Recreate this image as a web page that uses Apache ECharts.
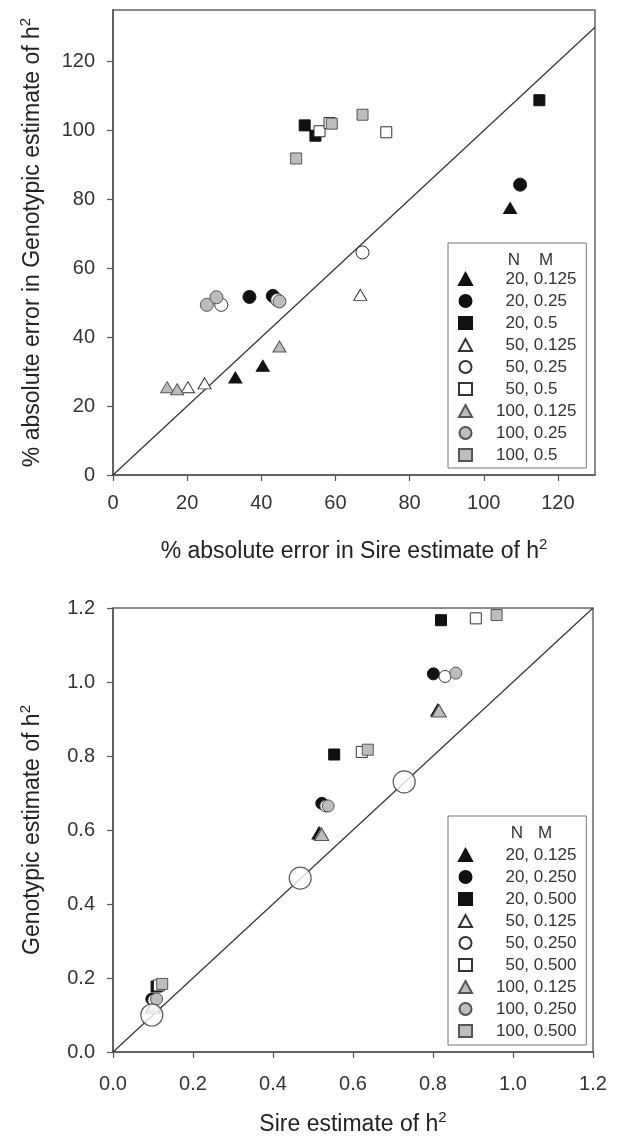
<!DOCTYPE html>
<html>
<head>
<meta charset="utf-8">
<script src="https://cdn.jsdelivr.net/npm/echarts@6/dist/echarts.min.js"></script>
<style>
  html, body { margin: 0; padding: 0; background: #fff; }
  #chart { width: 617px; height: 1140px; }
</style>
</head>
<body>
<div id="chart"></div>
<script>
// ---- data: top panel (% absolute error, sire vs genotypic) ----
const topNames = ['20, 0.125', '20, 0.25', '20, 0.5', '50, 0.125', '50, 0.25', '50, 0.5', '100, 0.125', '100, 0.25', '100, 0.5']
const topN20M125 = [[33.0, 28.3], [40.4, 31.7], [107.1, 77.5]]
const topN20M25 = [[36.8, 51.7], [43.1, 52.0], [109.8, 84.3]]
const topN20M5 = [[51.7, 101.5], [54.6, 98.5], [115.0, 108.8]]
const topN50M125 = [[20.2, 25.5], [24.7, 26.6], [66.7, 52.3]]
const topN50M25 = [[29.2, 49.4], [44.3, 50.8], [67.3, 64.6]]
const topN50M5 = [[55.7, 99.8], [58.4, 102.2], [73.7, 99.5]]
const topN100M125 = [[14.6, 25.5], [17.3, 24.9], [44.9, 37.3]]
const topN100M25 = [[25.3, 49.4], [27.9, 51.6], [44.9, 50.4]]
const topN100M5 = [[49.4, 91.9], [59.0, 102.0], [67.3, 104.6]]
const topTicks = [0, 20, 40, 60, 80, 100, 120]

// ---- data: bottom panel (h2 estimates, sire vs genotypic) ----
const botNames = ['20, 0.125', '20, 0.250', '20, 0.500', '50, 0.125', '50, 0.250', '50, 0.500', '100, 0.125', '100, 0.250', '100, 0.500']
const botN20M125 = [[0.100, 0.125], [0.515, 0.592], [0.812, 0.924]]
const botN20M25 = [[0.097, 0.143], [0.522, 0.672], [0.801, 1.022]]
const botN20M5 = [[0.109, 0.177], [0.553, 0.804], [0.820, 1.167]]
const botN50M125 = [[0.100, 0.120], [0.520, 0.590], [0.815, 0.922]]
const botN50M25 = [[0.102, 0.140], [0.532, 0.665], [0.830, 1.015]]
const botN50M5 = [[0.115, 0.180], [0.622, 0.811], [0.907, 1.172]]
const botN100M125 = [[0.102, 0.125], [0.522, 0.588], [0.815, 0.922]]
const botN100M25 = [[0.109, 0.143], [0.538, 0.665], [0.857, 1.024]]
const botN100M5 = [[0.123, 0.184], [0.637, 0.817], [0.959, 1.181]]
const botTrue = [[0.097, 0.100], [0.468, 0.470], [0.728, 0.730]]
const botTicks = [0, 0.2, 0.4, 0.6, 0.8, 1.0, 1.2]

const topData = [topN20M125, topN20M25, topN20M5, topN50M125, topN50M25, topN50M5, topN100M125, topN100M25, topN100M5]
const botData = [botN20M125, botN20M25, botN20M5, botN50M125, botN50M25, botN50M5, botN100M125, botN100M25, botN100M5]

const FONT = 'Liberation Sans, Arial, sans-serif'
const shapes = ['triangle', 'circle', 'rect']
const fills = [
  { color: '#111', borderColor: '#111' },
  { color: '#fff', borderColor: '#333' },
  { color: '#bdbdbd', borderColor: '#555' }
]

function makeSeries(prefix, names, data, gi, sizes) {
  return names.map((nm, k) => ({
    type: 'scatter',
    name: prefix + nm,
    xAxisIndex: gi,
    yAxisIndex: gi,
    symbol: shapes[k % 3],
    symbolSize: sizes[k % 3],
    itemStyle: { ...fills[Math.floor(k / 3)], borderWidth: 1, opacity: 1 },
    data: data[k],
    silent: true,
    z: 3
  }))
}

// "20, 0.125" -> N right-aligned on the comma (hidden digit pads two-digit N)
function legendFmt(name) {
  const s = name.slice(2)
  const i = s.indexOf(',')
  const n = s.slice(0, i)
  return '{g| }' + (n.length < 3 ? '{h|1}' : '') + '{n|' + n + '}{m|' + s.slice(i) + '}'
}

function axisPair(gi, min, max, ticks, fmt, nameX, nameY, gapX, gapY, marginX) {
  const common = {
    type: 'value', gridIndex: gi, min: min, max: max,
    splitLine: { show: false },
    axisLine: { show: true, onZero: false, lineStyle: { color: '#555', width: 1.5 } },
    axisTick: { show: true, inside: false, length: 6, customValues: ticks, lineStyle: { color: '#555', width: 1.2 } },
    nameLocation: 'middle',
    nameTextStyle: { fontSize: 23, color: '#222', fontFamily: FONT, rich: { s: { fontSize: 15, fontFamily: FONT, padding: [0, 0, 14, 0] } } }
  }
  return {
    x: { ...common, name: nameX, nameGap: gapX,
      axisLabel: { customValues: ticks, formatter: fmt, fontSize: 20, color: '#333', fontFamily: FONT, margin: marginX } },
    y: { ...common, name: nameY, nameGap: gapY, nameRotate: 90,
      axisLabel: { customValues: ticks, formatter: fmt, fontSize: 20, color: '#333', fontFamily: FONT, margin: 18 } }
  }
}

const a0 = axisPair(0, 0, 130, topTicks, v => String(v),
  '% absolute error in Sire estimate of h{s|2}', '% absolute error in Genotypic estimate of h{s|2}', 62, 66, 18)
a0.y.max = 135
const a1 = axisPair(1, 0, 1.2, botTicks, v => v.toFixed(1),
  'Sire estimate of h{s|2}', 'Genotypic estimate of h{s|2}', 58, 66, 22)

const txt = { fontSize: 17, fontFamily: FONT, color: '#333', lineHeight: 18 }
const legendBase = {
  orient: 'vertical', left: 448, itemGap: 4, itemWidth: 13, itemHeight: 12,
  borderColor: '#777', borderWidth: 1, selectedMode: false, formatter: legendFmt,
  textStyle: { ...txt,
    rich: { g: { ...txt, width: 19 }, h: { ...txt, color: 'rgba(0,0,0,0)' }, n: { ...txt }, m: { ...txt } } }
}

const chart = echarts.init(document.getElementById('chart'), null, { renderer: 'canvas' })
chart.setOption({
  animation: false,
  backgroundColor: '#fff',
  grid: [
    { left: 113, top: 10, width: 482, height: 465, show: true, borderColor: '#666', borderWidth: 1.5 },
    { left: 113, top: 608, width: 480, height: 444, show: true, borderColor: '#666', borderWidth: 1.5 }
  ],
  xAxis: [a0.x, a1.x],
  yAxis: [a0.y, a1.y],
  legend: [
    { ...legendBase, top: 243, padding: [27, 10, 4, 10], data: topNames.map(n => 'A ' + n) },
    { ...legendBase, top: 816, padding: [30, 10, 5, 10], data: botNames.map(n => 'B ' + n) }
  ],
  graphic: [
    { type: 'text', x: 514, y: 260, style: { text: 'N', fontSize: 17, fontFamily: FONT, fill: '#333', align: 'center', verticalAlign: 'middle' } },
    { type: 'text', x: 546, y: 260, style: { text: 'M', fontSize: 17, fontFamily: FONT, fill: '#333', align: 'center', verticalAlign: 'middle' } },
    { type: 'text', x: 517, y: 833, style: { text: 'N', fontSize: 17, fontFamily: FONT, fill: '#333', align: 'center', verticalAlign: 'middle' } },
    { type: 'text', x: 545, y: 833, style: { text: 'M', fontSize: 17, fontFamily: FONT, fill: '#333', align: 'center', verticalAlign: 'middle' } }
  ],
  series: [
    { type: 'line', xAxisIndex: 0, yAxisIndex: 0, data: [[0, 0], [130, 130]], symbol: 'none', silent: true,
      lineStyle: { color: '#333', width: 1.2 }, z: 2 },
    { type: 'line', xAxisIndex: 1, yAxisIndex: 1, data: [[0, 0], [1.2, 1.2]], symbol: 'none', silent: true,
      lineStyle: { color: '#333', width: 1.2 }, z: 2 },
    ...makeSeries('A ', topNames, topData, 0, [[13, 11], 13, 11]),
    ...makeSeries('B ', botNames, botData, 1, [[14, 12], 12, 11]),
    { type: 'scatter', name: 'true', xAxisIndex: 1, yAxisIndex: 1, data: botTrue, symbol: 'circle', symbolSize: 22,
      itemStyle: { color: '#fff', borderColor: '#333', borderWidth: 1.2 }, silent: true, z: 4 }
  ]
})
</script>
</body>
</html>
